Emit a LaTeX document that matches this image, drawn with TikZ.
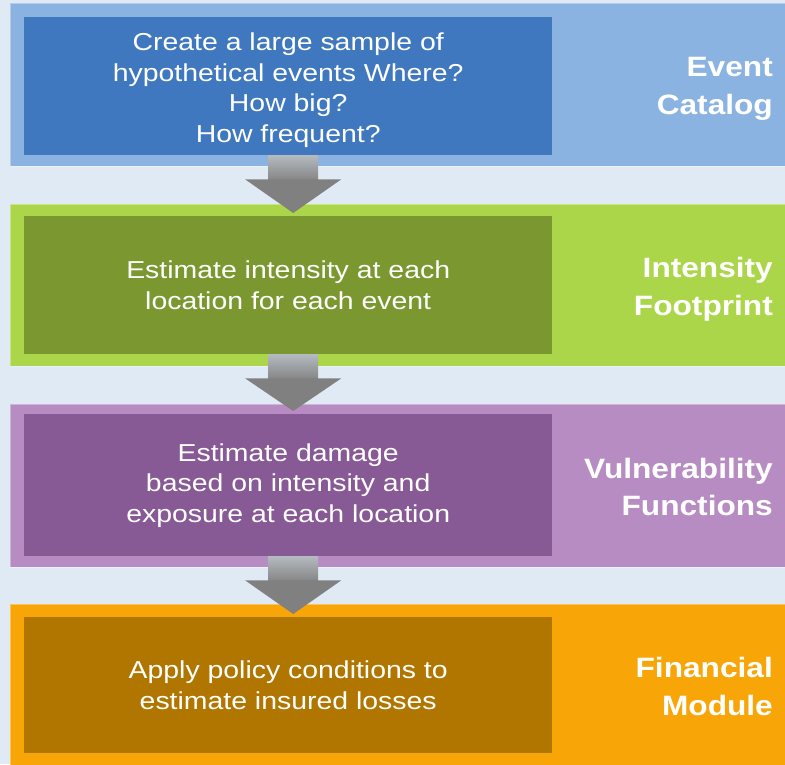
\documentclass[tikz,border=0pt]{standalone}
\usepackage{fontspec}
\setmainfont{Liberation Sans}
\newfontfamily\steptextfont[FakeStretch=1.16]{Liberation Sans}
\newfontfamily\tagtextfont[FakeStretch=1.13]{Liberation Sans}
\usetikzlibrary{calc}
\definecolor{pagebg}{HTML}{E0EAF5}
\definecolor{bandA}{HTML}{8BB3E1}\definecolor{boxA}{HTML}{3F78BE}
\definecolor{bandB}{HTML}{ACD64A}\definecolor{boxB}{HTML}{7A982F}
\definecolor{bandC}{HTML}{B68CC2}\definecolor{boxC}{HTML}{875995}
\definecolor{bandD}{HTML}{F8A507}\definecolor{boxD}{HTML}{B07600}
\definecolor{arrowgray}{HTML}{808080}
\begin{document}
\begin{tikzpicture}[x=1pt,y=-1pt,
  bandbox/.style={anchor=north west,inner sep=0pt,minimum width=785pt,draw=white,draw opacity=0.35,line width=0.8pt},
  stepbox/.style={anchor=north west,inner sep=0pt,minimum width=528pt,text=white,align=center,
    font=\steptextfont\fontsize{24.5}{30.5}\selectfont},
  tag/.style={anchor=east,inner sep=0pt,text=white,align=right,font=\tagtextfont\fontsize{28}{37.5}\selectfont\bfseries},
  shaft/.style={top color=arrowgray!45!pagebg,bottom color=arrowgray!95!white},
  head/.style={fill=arrowgray}]
\useasboundingbox (0,0) rectangle (785,764);
\fill[pagebg] (0,0) rectangle (785,764);

% coloured bands
\node[bandbox,fill=bandA,minimum height=163pt] (bandA) at (10,3) {};
\node[bandbox,fill=bandB,minimum height=162pt] (bandB) at (10,204) {};
\node[bandbox,fill=bandC,minimum height=163pt] (bandC) at (10,404) {};
\node[bandbox,fill=bandD,minimum height=170pt] (bandD) at (10,604) {};

% step boxes
\node[stepbox,fill=boxA,minimum height=138pt] (cat) at (24,17) {};
\node[text=white,align=center,inner sep=0pt,font=\steptextfont\fontsize{24.5}{30.5}\selectfont]
  (catText) at ($(cat.center)+(0,4)$)
  {Create a large sample of\\hypothetical events Where?\\How big?\\How frequent?};
\node[stepbox,fill=boxB,minimum height=138pt] (foot) at (24,216)
  {Estimate intensity at each\\location for each event};
\node[stepbox,fill=boxC,minimum height=142pt] (vuln) at (24,414)
  {Estimate damage\\based on intensity and\\exposure at each location};
\node[stepbox,fill=boxD,minimum height=136pt] (fin) at (24,617)
  {Apply policy conditions to\\estimate insured losses};

% module names
\node[tag] (tagA) at ($(bandA.center -| 773,0)+(0,4)$) {Event\\Catalog};
\node[tag] (tagB) at ($(bandB.center -| 773,0)+(0,4)$) {Intensity\\Footprint};
\node[tag] (tagC) at ($(bandC.center -| 773,0)+(0,1)$) {Vulnerability\\Functions};
\node[tag] (tagD) at ($(bandD.center -| 773,0)+(0,-3)$) {Financial\\Module};

% arrows between the steps
\foreach \a/\b in {cat/foot,foot/vuln,vuln/fin}{
  \shade[shaft] ($(\a.south)+(-20,0)$) rectangle ($(\a.south)+(30,24)$);
  \fill[head] ($(\a.south)+(-43,24)$) -- ($(\a.south)+(53,24)$) -- ($(\b.north)+(5,-3)$) -- cycle;
}
\end{tikzpicture}
\end{document}
